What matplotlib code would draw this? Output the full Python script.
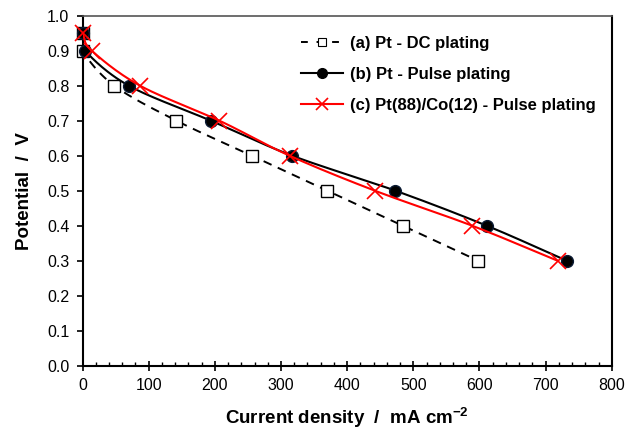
import numpy as np
import matplotlib
matplotlib.use('Agg')
import matplotlib.pyplot as plt

plt.rcParams['font.family'] = ['Liberation Sans', 'DejaVu Sans']
plt.rcParams['mathtext.fontset'] = 'custom'
plt.rcParams['mathtext.bf'] = 'Liberation Sans:bold'
plt.rcParams['mathtext.rm'] = 'Liberation Sans'

# dati
potenziale = [0.95, 0.9, 0.8, 0.7, 0.6, 0.5, 0.4, 0.3]
corrente_dc = [0, 0, 48, 142, 256, 370, 484, 598]
corrente_pulse = [0, 4, 70, 194, 317, 473, 611, 732]
corrente_ptco = [0, 14, 87, 207, 313, 442, 589, 718]

etichette = ['(a) Pt - DC plating', '(b) Pt - Pulse plating',
             '(c) Pt(88)/Co(12) - Pulse plating']


def curva_liscia(x, y, n=25):
    # spline di Catmull-Rom (come le linee smussate di Excel)
    sx, sy = 800.0, 1.0 / 0.66
    p = np.column_stack([np.asarray(x, float) / sx, np.asarray(y, float) / sy])
    keep = [0]
    for i in range(1, len(p)):
        if np.hypot(*(p[i] - p[keep[-1]])) > 1e-9:
            keep.append(i)
    p = p[keep]
    p = np.vstack([p[0] - (p[1] - p[0]), p, p[-1] + (p[-1] - p[-2])])
    out = []
    for i in range(1, len(p) - 2):
        p0, p1, p2, p3 = p[i - 1], p[i], p[i + 1], p[i + 2]
        t = np.linspace(0, 1, n)[:, None]
        seg = 0.5 * ((2 * p1) + (-p0 + p2) * t + (2 * p0 - 5 * p1 + 4 * p2 - p3) * t ** 2
                     + (-p0 + 3 * p1 - 3 * p2 + p3) * t ** 3)
        out.append(seg)
    out = np.vstack(out)
    return out[:, 0] * sx, out[:, 1] * sy


fig = plt.figure(figsize=(6.28, 4.29), dpi=100)
ax = fig.add_axes([0.1314, 0.1475, 0.8428, 0.8159])

xs, ys = curva_liscia(corrente_dc, potenziale)
ax.plot(xs, ys, color='black', lw=1.4, ls=(0, (4.5, 3.5)), zorder=2)
ax.plot(corrente_dc, potenziale, ls='none', marker='s', ms=8.5, mfc='white',
        mec='black', mew=1.0, zorder=3, clip_on=False)

xs, ys = curva_liscia(corrente_pulse, potenziale)
ax.plot(xs, ys, color='black', lw=1.5, zorder=4)
ax.plot(corrente_pulse, potenziale, ls='none', marker='o', ms=8.5, mfc='black',
        mec='#0a1a33', zorder=5, clip_on=False)

xs, ys = curva_liscia(corrente_ptco, potenziale)
ax.plot(xs, ys, color='red', lw=1.5, zorder=6)
ax.plot(corrente_ptco, potenziale, ls='none', marker='x', ms=11, mec='red',
        mew=1.2, zorder=7, clip_on=False)

# maniglie per la legenda
h1, = ax.plot([], [], color='black', lw=1.4, ls=(0, (3.5, 4.5)), marker='s', ms=6,
              mfc='white', mec='black', mew=0.8)
h2, = ax.plot([], [], color='black', lw=1.5, marker='o', ms=7, mfc='black')
h3, = ax.plot([], [], color='red', lw=1.5, marker='x', ms=8, mec='red', mew=1.2)
leg = fig.legend([h1, h2, h3], etichette, loc='upper left',
                 bbox_to_anchor=(0.466, 0.935), frameon=False, borderpad=0,
                 handlelength=2.5, handletextpad=0.45, labelspacing=0.95,
                 prop={'weight': 'bold', 'size': 12})

ax.set_xlim(0, 800)
ax.set_ylim(0, 1.0)
ax.set_xticks(np.arange(0, 801, 100))
ax.set_xticks(np.arange(0, 801, 20), minor=True)
ax.set_yticks(np.arange(0, 1.01, 0.1))
ax.set_yticklabels([f'{v:.1f}' for v in np.arange(0, 1.01, 0.1)])
ax.tick_params(axis='x', which='major', direction='inout', length=7, width=1.2,
               labelsize=11.5, pad=5)
ax.tick_params(axis='x', which='minor', direction='in', length=3, width=1.0)
ax.tick_params(axis='y', which='major', direction='out', length=4.5, width=1.2,
               labelsize=11.5, pad=5)

for s in ['left', 'bottom', 'right']:
    ax.spines[s].set_linewidth(1.5)
    ax.spines[s].set_color('black')
ax.spines['top'].set_color('#555555')
ax.spines['top'].set_linewidth(1.2)

ax.set_xlabel('Current density  /  mA cm$^{\\mathbf{-2}}$', fontsize=13.5,
              fontweight='bold', labelpad=9)
ax.set_ylabel('Potential  /  V', fontsize=13.5, fontweight='bold', labelpad=10)

fig.savefig('out.png', dpi=100)
